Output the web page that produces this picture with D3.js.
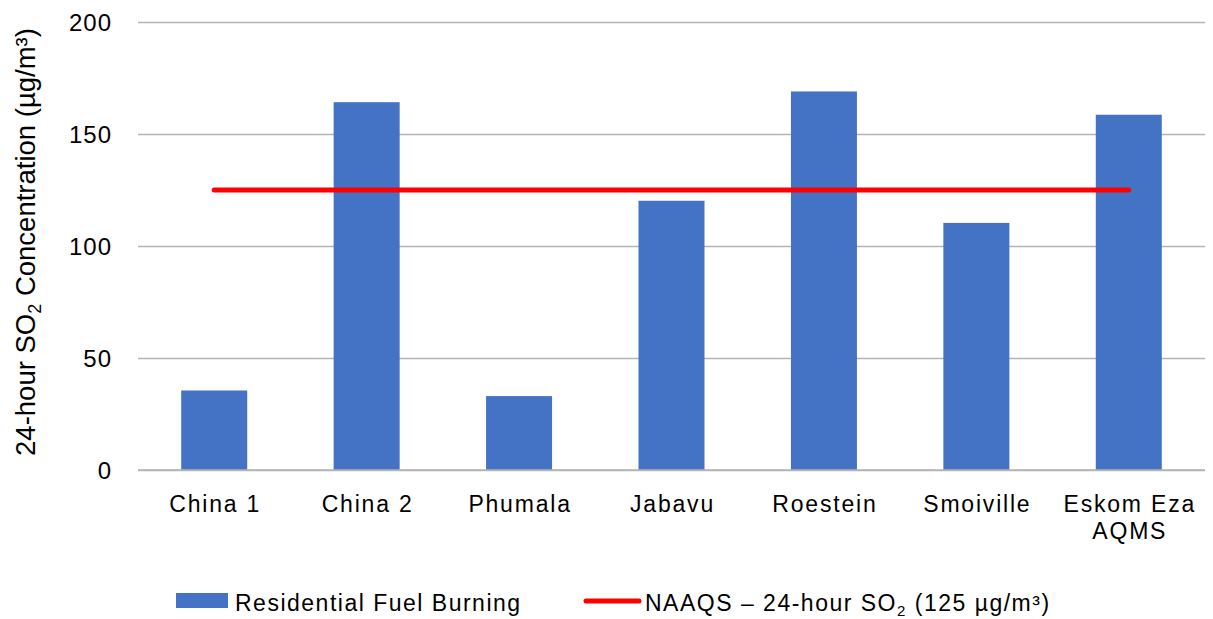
<!DOCTYPE html>
<html>
<head>
<meta charset="utf-8">
<script src="https://cdn.jsdelivr.net/npm/d3@7"></script>
<style>
  body { margin: 0; background: #fff; }
  svg text { font-family: "Liberation Sans", Arial, sans-serif; fill: #000; }
</style>
</head>
<body>
<div id="chart"></div>
<script>
// chart data
var sites = ["China 1", "China 2", "Phumala", "Jabavu", "Roestein", "Smoiville", "Eskom Eza AQMS"];
var fuelBurning = [35.5, 164.2, 33, 120.2, 169, 110.3, 158.6];
var naaqsLimit = [125, 125, 125, 125, 125, 125, 125];
var yTicks = [0, 50, 100, 150, 200];

var svg_width = 1213;
var svg_height = 619;
var margins = { top: 22, bottom: 149, left: 138, right: 8 };
var width = svg_width - margins.left - margins.right;
var height = svg_height - margins.top - margins.bottom;

var svg = d3.select("#chart")
            .append("svg")
            .attr("width", svg_width)
            .attr("height", svg_height);

var g = svg.append("g")
           .attr("transform", "translate(" + margins.left + "," + margins.top + ")");

// scales
var x = d3.scaleBand()
          .domain(sites)
          .range([0, width])
          .paddingInner(0.567)
          .paddingOuter(0.2835);

var y = d3.scaleLinear()
          .domain([0, 200])
          .range([height, 0]);

// gridlines
var yGrid = d3.axisLeft(y)
              .tickValues(yTicks)
              .tickSize(-width)
              .tickFormat("");

g.append("g")
 .attr("class", "grid")
 .call(yGrid)
 .call(s => s.select(".domain").remove())
 .call(s => s.selectAll("line").attr("stroke", "#b4b4b4").attr("stroke-width", 1.3));

// y tick labels
var yAxis = d3.axisLeft(y)
              .tickValues(yTicks)
              .tickSize(0)
              .tickPadding(26);

g.append("g")
 .call(yAxis)
 .call(s => s.select(".domain").remove())
 .call(s => s.selectAll("text")
             .attr("dy", "0.35em")
             .style("font-size", "24px")
             .style("letter-spacing", "1px")
             .style("font-family", "'Liberation Sans', Arial, sans-serif"));

// bars
g.append("g")
 .selectAll("rect")
 .data(sites)
 .enter()
 .append("rect")
 .attr("x", d => x(d))
 .attr("y", (d, i) => y(fuelBurning[i]))
 .attr("width", x.bandwidth())
 .attr("height", (d, i) => height - y(fuelBurning[i]))
 .attr("fill", "#4472C4");

// baseline
g.append("line")
 .attr("x1", 0).attr("x2", width)
 .attr("y1", y(0)).attr("y2", y(0))
 .attr("stroke", "#b4b4b4")
 .attr("stroke-width", 1.5);

// limit line
var line = d3.line()
             .x((d, i) => x(sites[i]) + x.bandwidth() / 2)
             .y(d => y(d));

g.append("path")
 .datum(naaqsLimit)
 .attr("d", line)
 .attr("fill", "none")
 .attr("stroke", "#FF0000")
 .attr("stroke-width", 5)
 .attr("stroke-linecap", "round");

// x category labels, wrapped the same way as the picture
var xLabels = g.append("g")
               .selectAll("text")
               .data(sites)
               .enter()
               .append("text")
               .attr("text-anchor", "middle")
               .attr("x", d => x(d) + x.bandwidth() / 2 + 1)
               .attr("y", height + 42)
               .style("font-size", "23px")
               .style("letter-spacing", "1.8px");

xLabels.each(function(d) {
  var lines = d === "Eskom Eza AQMS" ? ["Eskom Eza", "AQMS"] : [d];
  var t = d3.select(this);
  lines.forEach((l, i) => {
    t.append("tspan")
     .attr("x", t.attr("x"))
     .attr("dy", i === 0 ? 0 : 27)
     .text(l);
  });
});

// y axis title
var yTitle = svg.append("text")
                .attr("transform", "translate(35,242) rotate(-90)")
                .attr("text-anchor", "middle")
                .style("font-size", "27.5px");
yTitle.append("tspan").text("24-hour SO");
yTitle.append("tspan").text("2").style("font-size", "18px").attr("dy", 6);
yTitle.append("tspan").text(" Concentration (µg/m³)").attr("dy", -6);

// legend
var legend = svg.append("g").attr("class", "legend");

legend.append("rect")
      .attr("x", 176).attr("y", 593)
      .attr("width", 52).attr("height", 15)
      .attr("fill", "#4472C4");

legend.append("text")
      .attr("x", 235).attr("y", 611)
      .style("font-size", "23px")
      .style("letter-spacing", "1.5px")
      .text("Residential Fuel Burning");

legend.append("line")
      .attr("x1", 586).attr("x2", 639)
      .attr("y1", 601).attr("y2", 601)
      .attr("stroke", "#FF0000")
      .attr("stroke-width", 5)
      .attr("stroke-linecap", "round");

var lt = legend.append("text")
               .attr("x", 645).attr("y", 611)
               .style("font-size", "23px")
               .style("letter-spacing", "1.5px");
lt.append("tspan").text("NAAQS – 24-hour SO");
lt.append("tspan").text("2").style("font-size", "15px").attr("dy", 5);
lt.append("tspan").text(" (125 µg/m³)").attr("dy", -5);
</script>
</body>
</html>
